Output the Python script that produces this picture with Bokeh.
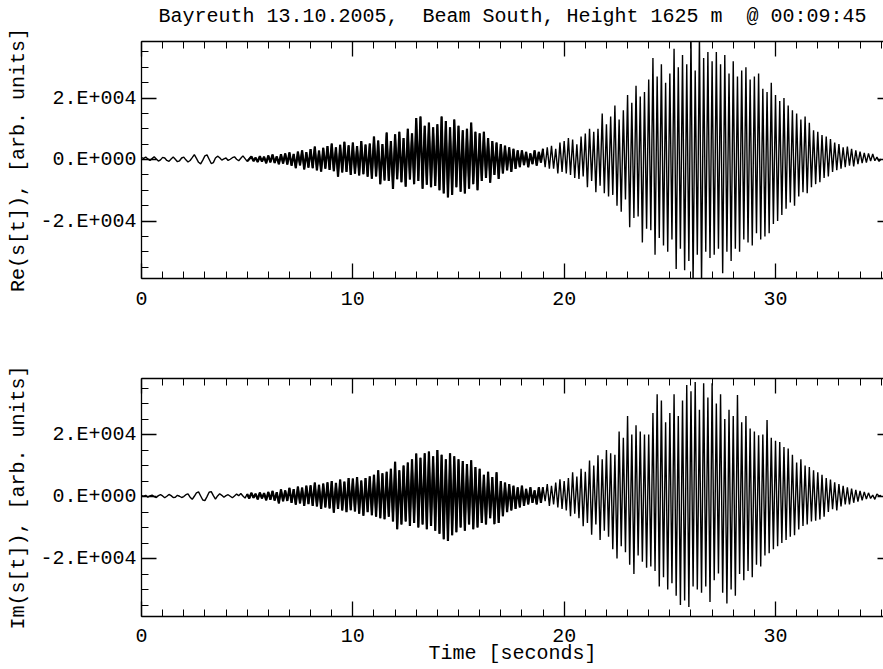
import numpy as np
from bokeh.plotting import figure
from bokeh.layouts import column
from bokeh.models import FixedTicker, LinearAxis, Range1d
from bokeh.embed import file_html
from bokeh.resources import INLINE

# ---------------- data (sampled every 0.1 s, values in thousands) ----------------
dt = 0.1
re_k = [
    0.6, 0.4, 0.8, 0.2, -0.3, 0.3, 0.9, 0.2, -0.5, -0.1,
    0.7, 0.5, -0.3, -0.6, 0.2, 0.8, 0.1, -0.7, -0.4, 0.5,
    0.8, -0.1, -0.8, -0.3, 0.6, 1.6, 0.4, -0.9, -1.4, -0.2,
    1.2, 1.5, 0.1, -1.3, -1.0, 0.5, 1.1, 0.6, -0.2, 0.2,
    0.5, -0.3, 0.1, 0.6, 0.9, 0.1, -0.4, 0.4, 1.2, 0.3,
    -0.6, 0.2, 1.0, -0.5, 0.6, -0.8, 1.1, -0.7, 0.9, -1.2,
    1.3, -0.9, 1.6, -1.1, 1.0, -1.5, 1.7, -1.3, 2.0, -1.6,
    2.3, -2.0, 1.8, -2.8, 2.6, -1.9, 3.0, -3.2, 2.4, -2.6,
    3.4, -2.8, 4.2, -3.5, 2.9, -3.9, 3.8, -3.0, 4.4, -3.4,
    5.2, -3.8, 4.0, -5.6, 4.8, -4.2, 5.8, -4.0, 4.6, -5.0,
    5.5, -4.6, 4.4, -5.2, 6.0, -4.8, 4.9, -5.6, 5.2, -6.2,
    7.5, -5.5, 6.2, -8.0, 5.0, -6.8, 8.8, -7.0, 6.0, -9.6,
    8.2, -6.4, 9.0, -7.4, 7.0, -8.8, 10.0, -6.5, 8.5, -8.0,
    13.5, -7.0, 14.0, -9.5, 11.0, -8.2, 12.0, -9.0, 10.5, -8.6,
    11.5, -10.0, 14.0, -11.0, 12.5, -12.3, 10.5, -11.5, 13.0, -9.0,
    11.0, -10.5, 9.5, -11.0, 10.0, -9.5, 12.0, -8.0, 9.0, -10.0,
    8.5, -7.0, 9.0, -6.0, 7.0, -7.5, 6.0, -5.0, 5.5, -6.3,
    5.0, -4.5, 4.5, -3.5, 4.0, -4.0, 3.5, -3.0, 3.0, -2.5,
    3.0, -1.8, 2.5, -2.5, 2.0, -1.5, 3.0, -2.0, 2.5, -1.0,
    3.5, -2.5, 4.0, -3.0, 4.5, -3.0, 3.5, -4.5, 5.5, -4.0,
    6.0, -4.5, 7.0, -5.0, 6.5, -6.0, 5.0, -6.3, 7.5, -5.5,
    8.5, -9.0, 10.0, -7.0, 9.0, -10.6, 10.0, -8.5, 15.0, -11.0,
    11.5, -12.0, 14.0, -11.5, 17.6, -15.0, 13.0, -17.0, 16.0, -13.0,
    21.0, -22.0, 18.5, -19.0, 24.0, -18.5, 20.5, -27.0, 22.0, -22.5,
    26.0, -23.0, 33.0, -31.0, 27.0, -25.5, 31.0, -28.0, 25.0, -30.0,
    28.0, -26.0, 36.0, -35.6, 30.0, -29.0, 34.0, -36.0, 31.0, -33.0,
    40.0, -40.0, 29.0, -31.0, 40.0, -40.0, 33.0, -30.0, 35.0, -32.0,
    32.0, -31.0, 35.0, -29.0, 31.0, -37.0, 34.0, -30.0, 28.0, -33.0,
    32.0, -29.0, 27.0, -30.0, 29.0, -26.0, 30.0, -27.0, 26.0, -28.0,
    27.0, -24.0, 28.0, -26.0, 23.0, -25.0, 22.0, -24.0, 25.0, -21.0,
    21.0, -20.0, 19.0, -18.0, 20.0, -16.0, 17.6, -14.0, 16.0, -15.0,
    15.0, -12.0, 13.0, -10.6, 14.0, -11.0, 12.0, -9.0, 9.5, -8.0,
    9.0, -7.4, 8.0, -6.0, 7.5, -5.5, 6.7, -4.0, 5.5, -3.5,
    5.0, -3.0, 4.0, -2.5, 4.2, -2.0, 3.5, -2.2, 3.0, -1.5,
    2.6, -1.2, 2.2, -1.0, 2.0, -0.5, 1.8, -0.4, 0.8, -0.6,
    0.2,
]
im_k = [
    0.3, 0.1, 0.4, -0.2, 0.2, 0.5, 0.0, -0.3, 0.3, 0.6,
    0.2, -0.4, 0.1, 0.7, 0.3, -0.3, -0.2, 0.4, 0.1, -0.3,
    0.0, 0.6, 0.9, -0.2, -0.9, 0.1, 1.2, 1.5, 0.2, -1.1,
    -1.3, 0.0, 1.4, 1.6, 0.3, -0.8, 0.2, 0.9, 0.4, -0.2,
    0.3, 0.6, 0.1, -0.4, 0.2, 0.8, 0.3, 1.0, 0.2, -0.5,
    0.8, -0.6, 1.2, -0.4, 0.9, -0.9, 1.3, -0.6, 1.1, -1.2,
    1.5, -1.0, 1.8, -1.3, 1.4, -2.2, 2.3, -1.5, 2.0, -1.4,
    2.8, -2.0, 2.4, -2.6, 3.2, -2.2, 2.9, -3.0, 3.5, -2.4,
    3.6, -3.0, 4.5, -3.2, 3.8, -4.0, 4.2, -3.5, 4.6, -3.8,
    5.0, -5.2, 4.4, -4.0, 5.5, -4.5, 4.8, -5.0, 6.0, -4.4,
    5.8, -4.8, 6.3, -5.5, 5.2, -6.2, 6.0, -5.0, 6.5, -6.0,
    7.0, -6.5, 8.5, -7.0, 7.5, -7.3, 8.0, -6.5, 9.0, -8.0,
    11.2, -10.5, 8.5, -9.0, 10.0, -8.0, 11.0, -9.5, 12.0, -8.5,
    13.9, -10.0, 12.5, -9.0, 14.0, -10.5, 14.5, -9.5, 13.0, -11.0,
    15.0, -12.0, 13.5, -13.8, 12.0, -14.3, 14.0, -12.5, 13.0, -11.5,
    12.0, -10.0, 11.5, -11.0, 10.5, -9.0, 11.7, -10.5, 9.5, -10.0,
    9.0, -8.5, 7.0, -9.0, 8.0, -7.0, 6.3, -8.9, 7.8, -8.5,
    5.0, -6.3, 4.5, -5.0, 4.0, -4.5, 3.5, -4.0, 3.0, -3.5,
    3.5, -3.0, 2.5, -2.5, 3.0, -2.0, 2.0, -2.5, 3.0, -2.0,
    3.0, -1.5, 4.0, -3.0, 3.5, -2.5, 4.5, -3.5, 5.6, -4.0,
    5.0, -4.5, 6.0, -6.3, 7.8, -5.5, 6.5, -7.0, 9.0, -9.6,
    8.0, -8.5, 11.6, -12.3, 10.0, -9.0, 13.3, -14.0, 12.0, -11.0,
    15.0, -13.0, 14.0, -17.0, 13.5, -20.0, 21.0, -16.0, 19.0, -18.0,
    26.0, -22.0, 20.0, -25.0, 23.0, -19.0, 21.0, -21.0, 20.0, -23.0,
    20.0, -22.6, 27.0, -24.0, 33.0, -29.0, 31.0, -26.0, 24.0, -30.0,
    27.0, -28.0, 33.0, -32.0, 26.0, -35.0, 31.0, -33.5, 36.0, -35.6,
    34.0, -29.0, 37.0, -30.0, 28.0, -31.0, 36.6, -29.0, 32.0, -34.0,
    36.6, -27.0, 30.0, -24.8, 33.0, -31.0, 25.0, -34.5, 28.0, -30.0,
    26.0, -32.0, 32.8, -25.0, 24.0, -27.0, 26.0, -24.0, 22.0, -26.0,
    21.0, -22.0, 19.8, -22.6, 20.0, -19.0, 24.7, -18.3, 19.0, -17.0,
    18.0, -16.0, 17.6, -15.0, 16.0, -14.0, 15.5, -13.0, 13.5, -12.5,
    11.0, -10.6, 12.0, -9.5, 10.0, -9.0, 9.5, -8.0, 8.5, -7.8,
    7.8, -7.4, 7.0, -6.5, 6.0, -5.0, 5.5, -4.1, 4.6, -4.5,
    4.0, -3.2, 3.5, -2.5, 3.0, -2.5, 2.6, -2.0, 2.2, -1.6,
    1.8, -1.2, 1.5, -0.8, 1.2, -0.6, 0.5, -0.9, 0.8, 0.2,
    0.4,
]

x_major = [0, 10, 20, 30]
x_minor = list(range(0, 36))
y_major = [-20000, 0, 20000]
y_minor = list(range(-35000, 35001, 5000))
y_labels = {-20000: "-2.E+004", 0: "0.E+000", 20000: "2.E+004"}

title_text = "Bayreuth 13.10.2005,\u00a0 Beam South, Height 1625 m\u00a0 @ 00:09:45"
re_label = "Re(s[t]), [arb. units]"
im_label = "Im(s[t]), [arb. units]"
x_label = "Time [seconds]"

FONT = "Liberation Mono"
FS = "20px"

t = np.arange(len(re_k)) * dt
re_vals = np.array(re_k) * 1000.0
im_vals = np.array(im_k) * 1000.0
dense = (t >= 5.0) & (t <= 19.0)


def style_axis(ax, labels=True, tick_in=15, minor_in=7, line=True):
    ax.major_tick_in = tick_in
    ax.major_tick_out = 0
    ax.minor_tick_in = minor_in
    ax.minor_tick_out = 0
    ax.major_tick_line_color = "black"
    ax.minor_tick_line_color = "black"
    ax.axis_line_color = "black" if line else None
    ax.axis_line_width = 1.3
    ax.major_tick_line_width = 1.3
    ax.minor_tick_line_width = 1.0
    ax.major_label_text_font = FONT
    ax.major_label_text_font_size = FS
    ax.major_label_text_color = "black" if labels else None
    ax.axis_label_text_font = FONT
    ax.axis_label_text_font_size = FS
    ax.axis_label_text_font_style = "normal"
    ax.axis_label_text_color = "black"


def make_panel(vals, ylab, yr, height, btop, bbot, title=None, xlab=None):
    p = figure(width=883, height=height, x_range=Range1d(0, 35.11),
               y_range=Range1d(*yr), output_backend="svg",
               toolbar_location=None, min_border_left=141,
               min_border_right=0, min_border_top=btop,
               min_border_bottom=bbot, title=title)
    p.outline_line_color = None
    p.xgrid.visible = False
    p.ygrid.visible = False
    p.background_fill_color = "white"
    p.border_fill_color = "white"
    p.line(t, vals, line_color="black", line_width=1.4)
    p.line(t[dense], vals[dense], line_color="black", line_width=2.2)

    xa = p.xaxis[0]
    xa.ticker = FixedTicker(ticks=x_major, minor_ticks=x_minor)
    style_axis(xa)
    xa.major_label_standoff = 13
    if xlab:
        xa.major_label_standoff = 12
        xa.axis_label = xlab
        xa.axis_label_standoff = -3

    ya = p.yaxis[0]
    ya.ticker = FixedTicker(ticks=y_major, minor_ticks=y_minor)
    ya.major_label_overrides = y_labels
    style_axis(ya)
    ya.major_label_standoff = 5
    ya.axis_label = ylab
    ya.axis_label_standoff = 7

    top = LinearAxis(ticker=FixedTicker(ticks=x_major, minor_ticks=x_minor))
    style_axis(top, labels=False)
    top.major_label_standoff = 0
    p.add_layout(top, "above")

    right = LinearAxis(ticker=FixedTicker(ticks=y_major, minor_ticks=[]))
    style_axis(right, labels=False, tick_in=6, minor_in=0, line=False)
    right.major_label_standoff = 0
    p.add_layout(right, "right")

    if title is not None:
        p.title.text_font = FONT
        p.title.text_font_size = FS
        p.title.text_font_style = "normal"
        p.title.align = "center"
        p.title.vertical_align = "top"
        p.title.text_color = "black"
        p.title.standoff = 6
        p.title.padding = {"left": 0, "right": 0, "top": 0, "bottom": 9}
    return p


p1 = make_panel(re_vals, re_label, (-38700, 38400), 330, 41, 52, title=title_text)
p2 = make_panel(im_vals, im_label, (-38700, 38100), 339, 48, 53, xlab=x_label)

layout = column(p1, p2, spacing=0)
open("out.html", "w").write(file_html(layout, INLINE))
